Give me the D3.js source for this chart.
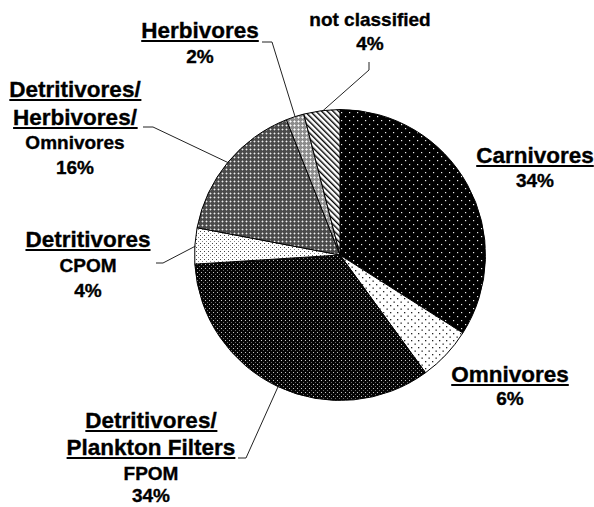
<!DOCTYPE html>
<html>
<head>
<meta charset="utf-8">
<script src="https://cdn.jsdelivr.net/npm/d3@7"></script>
<style>
  html, body { margin: 0; padding: 0; background: #fff; }
  svg { display: block; }
  text { font-family: "Liberation Sans", Arial, sans-serif; font-weight: bold; fill: #000; stroke: #000; stroke-width: 0.35px; }
</style>
</head>
<body>
<svg id="chart" width="594" height="507"></svg>
<script>
// ---- data ----
const categories = ["Carnivores", "Omnivores", "Detritivores/Plankton Filters FPOM", "Detritivores CPOM",
                    "Detritivores/Herbivores/Omnivores", "Herbivores", "not classified"];
const values = [34, 6, 34, 4, 16, 2, 4];
const titleLines = [["Carnivores"], ["Omnivores"], ["Detritivores/", "Plankton Filters"], ["Detritivores"],
                    ["Detritivores/", "Herbivores/"], ["Herbivores"], []];
const subLines = [[], [], ["FPOM"], ["CPOM"], ["Omnivores"], [], ["not classified"]];
const percentLabels = ["34%", "6%", "34%", "4%", "16%", "2%", "4%"];
const patternIds = ["pCarn", "pOmni", "pFpom", "pCpom", "pDho", "pHerb", "pNc"];

// ---- layout ----
const W = 594, H = 507;
const cx = 340, cy = 255, R = 145.5;
const BIG = 22.5, SMALL = 19;
const labelLayout = [
  { x: 535, ys: [163, 187] },
  { x: 510, ys: [382, 405] },
  { x: 151, ys: [428, 455, 480, 502], leader: [[238, 458], [246, 458]] },
  { x: 88,  ys: [247, 272, 297], leader: [[156, 263], [163, 263]] },
  { x: 75,  ys: [97, 125, 149, 174], leader: [[143, 127], [153, 127]] },
  { x: 200, ys: [38, 63], leader: [[262, 42], [272, 42]] },
  { x: 370, ys: [26, 50], leader: [[369, 62], [369, 70]] }
];

const svg = d3.select("#chart");
const defs = svg.append("defs");

function tile(id, w, h, bg) {
  const p = defs.append("pattern").attr("id", id).attr("patternUnits", "userSpaceOnUse")
    .attr("width", w).attr("height", h);
  p.append("rect").attr("width", w).attr("height", h).attr("fill", bg);
  return p;
}
function dot(p, x, y, s, c) {
  p.append("rect").attr("x", x).attr("y", y).attr("width", s).attr("height", s).attr("fill", c);
}
// Carnivores: black with white dots
let p = tile("pCarn", 8, 8, "#000");
dot(p, 1, 1, 1.2, "#eee"); dot(p, 5, 5, 1.2, "#eee");
// Omnivores: white with black dots
p = tile("pOmni", 7, 7, "#fff");
dot(p, 1, 1, 1.3, "#222"); dot(p, 4.5, 4.5, 1.3, "#222");
// FPOM: black with grey/white dots, dense
p = tile("pFpom", 4, 4, "#050505");
dot(p, 1, 1, 1, "#c8c8c8"); dot(p, 3, 3, 1, "#6a6a6a");
// CPOM: white with small dots
p = tile("pCpom", 4, 4, "#fff");
dot(p, 0, 0, 1, "#444"); dot(p, 2, 2, 1, "#888");
// Det/Herb/Omni: mid-dark gray checker with light crosses
p = tile("pDho", 4, 4, "#4a4a4a");
dot(p, 2, 2, 1, "#eee");
[[1,2],[3,2],[2,1],[2,3]].forEach(([x,y]) => dot(p, x, y, 1, "#8a8a8a"));
// Herbivores: light gray checker
p = tile("pHerb", 4, 4, "#8c8c8c");
dot(p, 2, 2, 1, "#fff");
[[1,2],[3,2],[2,1],[2,3]].forEach(([x,y]) => dot(p, x, y, 1, "#d0d0d0"));
// not classified: diagonal hatch "\"
p = defs.append("pattern").attr("id", "pNc").attr("patternUnits", "userSpaceOnUse")
  .attr("width", 4).attr("height", 4).attr("patternTransform", "rotate(-45)");
p.append("rect").attr("width", 4).attr("height", 4).attr("fill", "#fff");
p.append("rect").attr("x", 0).attr("y", 0).attr("width", 1.4).attr("height", 4).attr("fill", "#000");

// ---- pie ----
const data = categories.map((c, i) => ({ c, v: values[i], i }));
const pie = d3.pie().sort(null).value(d => d.v).startAngle(0).endAngle(2 * Math.PI);
const arcs = pie(data);
const arc = d3.arc().innerRadius(0).outerRadius(R);
const edgeArc = d3.arc().innerRadius(R - 1).outerRadius(R - 1);

const g = svg.append("g").attr("transform", `translate(${cx},${cy})`);
g.selectAll("path.slice").data(arcs).join("path")
  .attr("class", "slice")
  .attr("d", arc)
  .attr("fill", d => `url(#${patternIds[d.index]})`)
  .attr("stroke", "#000").attr("stroke-width", 1).attr("stroke-linejoin", "round");

// ---- leaders ----
arcs.forEach((d, i) => {
  const L = labelLayout[i];
  if (!L.leader) return;
  const e = edgeArc.centroid(d);
  const pts = [...L.leader, [cx + e[0], cy + e[1]]];
  svg.append("path").attr("d", d3.line()(pts))
    .attr("fill", "none").attr("stroke", "#222").attr("stroke-width", 1);
});

// ---- labels ----
arcs.forEach((d, i) => {
  const L = labelLayout[i];
  let k = 0;
  titleLines[i].forEach(t => {
    const y = L.ys[k++];
    const tx = svg.append("text").attr("x", L.x).attr("y", y)
      .attr("text-anchor", "middle").attr("font-size", BIG).text(t);
    const bb = tx.node().getBBox();
    svg.append("rect").attr("x", bb.x).attr("y", y + 2).attr("width", bb.width).attr("height", 2).attr("fill", "#000");
  });
  subLines[i].forEach(t => {
    svg.append("text").attr("x", L.x).attr("y", L.ys[k++])
      .attr("text-anchor", "middle").attr("font-size", SMALL).text(t);
  });
  svg.append("text").attr("x", L.x).attr("y", L.ys[k++])
    .attr("text-anchor", "middle").attr("font-size", SMALL).text(percentLabels[i]);
});
</script>
</body>
</html>
